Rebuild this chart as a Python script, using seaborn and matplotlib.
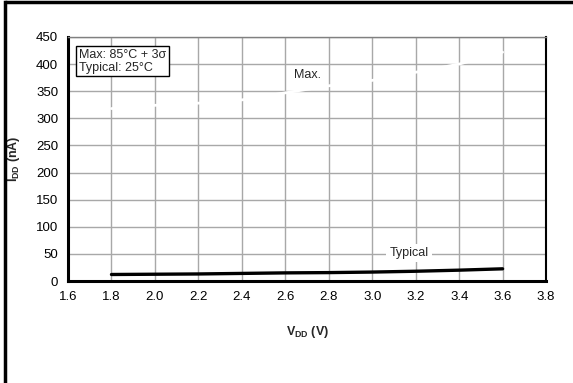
import matplotlib
matplotlib.use("Agg")
import matplotlib.pyplot as plt
import seaborn as sns
import pandas as pd
from matplotlib.lines import Line2D

vdd = [1.8, 2.0, 2.2, 2.4, 2.6, 2.8, 3.0, 3.2, 3.4, 3.6]
idd_max = [318, 324, 328, 334, 347, 360, 370, 385, 400, 422]
idd_typ = [12, 12.5, 13, 14, 15, 15.5, 16.5, 18, 20, 22.5]
x_ticks = [1.6, 1.8, 2.0, 2.2, 2.4, 2.6, 2.8, 3.0, 3.2, 3.4, 3.6, 3.8]
y_ticks = [0, 50, 100, 150, 200, 250, 300, 350, 400, 450]

sns.set_theme(style="white")
plt.rcParams['font.family'] = ['Liberation Sans', 'DejaVu Sans']
plt.rcParams['mathtext.fontset'] = 'custom'
plt.rcParams['mathtext.rm'] = 'Liberation Sans'
plt.rcParams['mathtext.bf'] = 'Liberation Sans:bold'

df = pd.DataFrame({"vdd": vdd + vdd,
                   "idd": idd_max + idd_typ,
                   "series": ["Max."] * len(vdd) + ["Typical"] * len(vdd)})

fig = plt.figure(figsize=(5.73, 3.83), dpi=100)
ax = fig.add_axes([0.1187, 0.2663, 0.9530 - 0.1187, 0.9034 - 0.2663])

ax.set_axisbelow(True)
ax.grid(True, color='#a8a8a8', linewidth=1.0)

sns.lineplot(data=df, x="vdd", y="idd", hue="series",
             palette={"Max.": "white", "Typical": "black"},
             legend=False, ax=ax)
for ln in ax.get_lines():
    c = matplotlib.colors.to_hex(ln.get_color())
    ln.set_linewidth(2.0 if c == '#ffffff' else 2.4)

ax.set_xlim(1.6, 3.8)
ax.set_ylim(0, 450)
ax.set_xticks(x_ticks)
ax.set_yticks(y_ticks)
ax.set_xticklabels([f"{t:.1f}" for t in x_ticks])
ax.set_yticklabels([str(t) for t in y_ticks])
ax.tick_params(axis='both', length=0, labelsize=9.5, colors='black', pad=7)

for s in ['left', 'bottom']:
    ax.spines[s].set_color('black')
    ax.spines[s].set_linewidth(2.2)
ax.spines['right'].set_color('black')
ax.spines['right'].set_linewidth(1.5)
ax.spines['top'].set_color('#808080')
ax.spines['top'].set_linewidth(1.0)

ax.set_xlabel(r'V$_{\mathbf{DD}}$ (V)', fontsize=9, fontweight='bold', labelpad=15)
ax.set_ylabel(r'I$_{\mathbf{DD}}$ (nA)', fontsize=9, fontweight='bold', labelpad=10)

ax.text(1.65, 428, "Max: 85°C + 3σ\nTypical: 25°C", fontsize=9, va='top', ha='left',
        linespacing=1.1,
        bbox=dict(boxstyle='square,pad=0.2', facecolor='white', edgecolor='black', linewidth=1))
ax.text(2.70, 380, "Max.", fontsize=9, ha='center', va='center')
ax.text(3.17, 52, "Typical", fontsize=9, ha='center', va='center',
        bbox=dict(boxstyle='square,pad=0.25', facecolor='white', edgecolor='none'))

fig.lines.append(Line2D([5 / 573, 5 / 573], [0, 1 - 1.5 / 383], transform=fig.transFigure,
                        color='black', linewidth=2.5, solid_capstyle='projecting'))
fig.lines.append(Line2D([5 / 573, 1], [1 - 1.5 / 383, 1 - 1.5 / 383], transform=fig.transFigure,
                        color='black', linewidth=2.5, solid_capstyle='butt'))

fig.savefig("out.png", dpi=100)
